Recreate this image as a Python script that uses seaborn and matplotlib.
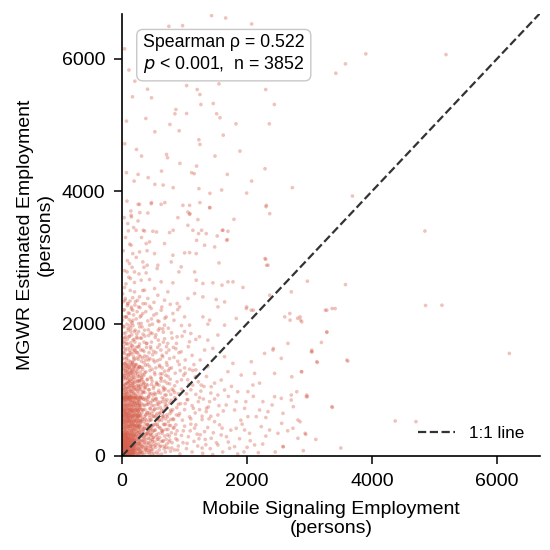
import numpy as np
import pandas as pd
import matplotlib
matplotlib.use("Agg")
import matplotlib.pyplot as plt
import seaborn as sns

# Points (mobile signaling employment, MGWR estimate), by region
upper_pts = [
    (1432, 6652), (1657, 6616), (748, 6490), (968, 6500), (2073, 6526), (40, 6150), (110, 5830),
    (204, 5661), (166, 5425), (407, 5540), (471, 5410), (1032, 5595), (1202, 5535), (1245, 5460),
    (1550, 5621), (2298, 5535), (2436, 5309), (1261, 5309), (1459, 5324), (861, 5234), (845, 5169),
    (1032, 5173), (1513, 5169), (70, 5058), (380, 5098), (765, 5008), (1566, 5109), (1822, 5017),
    (2356, 5017), (524, 4897), (913, 4912), (1619, 4846), (1229, 4777), (1245, 4706), (230, 4630),
    (711, 4555), (727, 4505), (1886, 4605), (1486, 4530), (311, 4530), (925, 4419), (1192, 4379),
    (2287, 4339), (70, 4279), (256, 4253), (417, 4204), (631, 4303), (1112, 4279), (1683, 4253),
    (2073, 4152), (192, 4152), (524, 4103), (657, 4092), (817, 4053), (1229, 4038), (1405, 3967),
    (1593, 4017), (2724, 4053), (256, 3801), (471, 3827), (684, 3827), (1245, 3827), (1405, 3751),
    (2303, 3766), (284, 3676), (1154, 4264), (1993, 3971), (43, 4716), (150, 3610), (551, 3383),
    (338, 3409), (817, 3409), (1085, 3661), (1272, 3409), (1603, 3409), (1673, 3258), (1192, 3258),
    (3900, 6074), (5183, 6063), (3574, 5923), (3420, 5781), (3686, 3926), (4846, 3398),
]

mid_pts = [
    (279, 3801), (465, 3811), (625, 3801), (973, 3786), (1080, 3786), (1400, 3751), (2308, 3786),
    (2362, 3660), (144, 3635), (412, 3670), (893, 3600), (1053, 3685), (1080, 3650), (1213, 3570),
    (1790, 3575), (91, 3510), (224, 3409), (359, 3398), (492, 3394), (760, 3374), (1053, 3484),
    (1133, 3409), (1224, 3359), (1346, 3359), (1522, 3323), (1614, 3409), (1683, 3268), (1694, 3394),
    (144, 3183), (171, 3057), (279, 3082), (385, 3208), (439, 3233), (519, 3057), (679, 3208),
    (813, 3032), (1000, 3067), (1080, 3072), (1186, 3057), (1320, 3183), (1481, 3157), (1550, 2916),
    (2298, 2971), (2335, 2881), (118, 2906), (332, 2931), (401, 2881), (572, 2881), (786, 2931),
    (946, 2856), (80, 2780), (198, 2780), (385, 2765), (561, 2831), (909, 2780), (1160, 2780),
    (134, 2680), (305, 2655), (439, 2665), (625, 2630), (813, 2615), (1186, 2655), (1293, 2605),
    (1453, 2615), (1598, 2580), (1694, 2630), (1774, 2630), (1934, 2545), (2708, 2479), (38, 2545),
    (198, 2479), (279, 2403), (359, 2504), (412, 2379), (519, 2529), (572, 2428), (679, 2353),
    (732, 2479), (881, 2303), (920, 2252), (1053, 2379), (1160, 2454), (1293, 2403), (1506, 2363),
    (1534, 2252), (1640, 2327), (1987, 2228), (2067, 2202), (2362, 2428), (2603, 2101), (2683, 2152),
    (91, 2303), (171, 2202), (263, 2252), (332, 2152), (465, 2228), (508, 2127), (625, 2202),
    (705, 2101), (813, 2152), (1000, 2101), (1293, 2101), (1400, 2051), (1640, 1976), (1827, 2077),
    (1373, 1991), (1080, 1976), (144, 2026), (305, 2001), (439, 1976), (572, 2041), (679, 1976),
    (38, 2101), (599, 1926),
    (10, 2450), (18, 3100), (25, 2200), (33, 3600), (40, 2800), (48, 2350), (55, 3300), (62, 2600),
    (70, 2100), (78, 3850), (85, 2950), (92, 2300), (100, 3400), (108, 2700), (115, 2150), (122, 3200),
    (130, 2500), (140, 3700), (150, 2250), (160, 2850), (172, 2050), (185, 3450), (198, 2620),
    (212, 2330), (226, 3000), (240, 2180), (255, 3550), (270, 2750), (290, 2100), (310, 3300),
    (330, 2500), (350, 2850), (375, 2300), (400, 3100),
    (5, 2050), (12, 1720), (18, 2330), (24, 1480), (30, 1950), (36, 2210), (43, 1620), (50, 2380),
    (57, 1800), (64, 2100), (71, 1530), (78, 1990), (85, 2270), (92, 1690), (99, 2160), (106, 1440),
    (113, 2060), (120, 1810), (127, 2340), (134, 1560), (141, 1930), (148, 2220), (155, 1670),
    (162, 2010), (169, 2390), (176, 1750), (183, 2130), (190, 1470), (197, 1880), (205, 2280),
    (215, 1590), (225, 2070), (235, 1840), (245, 2350), (255, 1650), (265, 2000), (275, 1520),
    (285, 2240), (295, 1780), (305, 2120), (320, 1950), (335, 2300), (350, 1580), (365, 1810),
    (380, 2180), (395, 1700), (410, 2040), (425, 1450), (440, 2260), (455, 1860), (470, 2070),
    (490, 1530), (510, 2320), (530, 1790), (550, 2150), (570, 1640), (590, 2030), (610, 1460),
    (635, 2250), (660, 1720), (685, 2080), (710, 1560), (740, 1930), (770, 2290), (800, 1780),
    (830, 2050), (860, 1620), (890, 2210), (760, 1470), (650, 1920),
]

band_hi_pts = [
    (25, 1850), (60, 1420), (85, 1760), (110, 1530), (140, 1880), (170, 1610), (195, 1450),
    (230, 1790), (250, 1560), (280, 1690), (310, 1430), (335, 1840), (360, 1510), (390, 1640),
    (420, 1905), (445, 1470), (470, 1720), (505, 1580), (540, 1830), (565, 1440), (600, 1680),
    (640, 1520), (680, 1770), (710, 1410), (750, 1600), (790, 1860), (830, 1490), (870, 1700),
    (910, 1560), (960, 1810), (1010, 1450), (1060, 1650), (1120, 1520), (1180, 1760), (15, 1560),
    (45, 1690), (75, 1480), (100, 1900), (130, 1640), (160, 1420), (205, 1720), (240, 1480),
    (265, 1880), (300, 1600), (350, 1720), (380, 1450), (430, 1560), (480, 1850), (520, 1420),
    (580, 1750), (620, 1600), (660, 1870), (730, 1700), (820, 1640), (1000, 1880), (890, 1430),
    (40, 1780), (190, 1560), (330, 1480), (460, 1620),
    (3, 1120), (6, 1460), (9, 1780), (12, 990), (15, 1320), (18, 1650), (22, 1960), (26, 1210),
    (30, 1550), (34, 920), (38, 1400), (42, 1730), (46, 1080), (50, 1590), (54, 1290), (58, 1860),
    (62, 1010), (66, 1470), (70, 1180), (74, 1700), (78, 960), (82, 1380), (86, 1620), (90, 1100),
    (94, 1930), (98, 1260), (102, 1520), (106, 1040), (110, 1800), (114, 1340), (118, 1590),
    (122, 1150), (126, 1970), (130, 1420), (134, 1060), (138, 1710), (142, 1250), (146, 1540),
    (150, 980), (154, 1830), (158, 1300), (162, 1090), (166, 1660), (170, 1410), (174, 1970),
    (178, 1190), (182, 1500), (186, 1020), (190, 1760), (194, 1330), (198, 1600), (204, 1110),
    (210, 1900), (216, 1380), (222, 1640), (228, 1000), (234, 1560), (240, 1270), (246, 1780),
    (252, 1130), (258, 1460), (264, 1050), (270, 1650), (276, 1350), (282, 1950), (288, 1220),
    (294, 1500), (300, 1080), (310, 1780), (320, 1340), (330, 1600), (340, 1120), (350, 1410),
    (360, 1900), (370, 1020), (380, 1270), (390, 1700), (400, 1500), (410, 1070), (425, 1820),
    (440, 1350), (455, 1650), (470, 1170), (485, 1990), (500, 1450), (520, 1260), (540, 1560),
    (560, 1090), (580, 1900), (600, 1370), (620, 1180), (650, 1500), (680, 1130), (710, 1650),
    (740, 1290),
]

band_mid_pts = [
    (10, 1390), (30, 1040), (50, 1250), (70, 930), (90, 1330), (115, 1120), (135, 980), (155, 1280),
    (180, 1060), (200, 1370), (220, 910), (245, 1200), (270, 1030), (290, 1340), (315, 1150),
    (340, 960), (365, 1260), (385, 1080), (410, 1380), (435, 940), (455, 1190), (480, 1310),
    (500, 1020), (525, 1230), (550, 1110), (575, 960), (600, 1350), (625, 1170), (655, 1040),
    (680, 1280), (705, 920), (735, 1200), (760, 1090), (790, 1330), (820, 990), (850, 1250),
    (880, 1120), (915, 1380), (950, 1010), (985, 1220), (1030, 940), (1080, 1310), (1130, 1070),
    (1190, 1200), (1260, 980), (20, 1180), (40, 960), (60, 1350), (80, 1100), (100, 1220),
    (125, 900), (145, 1380), (170, 1150), (190, 950), (210, 1240), (235, 1060), (255, 1320),
    (280, 1140), (305, 920), (330, 1230), (355, 1040), (375, 1370), (400, 1150), (425, 1000),
    (445, 1290), (470, 1080), (515, 950), (540, 1330), (590, 1070), (640, 1240), (690, 1010),
    (720, 1370), (770, 1160), (840, 1060), (900, 940), (1000, 1330), (1050, 1150), (1150, 1380),
    (1220, 1120),
    (2, 870), (5, 1010), (8, 1240), (11, 930), (14, 1150), (17, 1370), (20, 1060), (23, 880),
    (26, 1290), (29, 1000), (32, 1190), (35, 860), (38, 1330), (41, 1080), (44, 950), (47, 1220),
    (50, 1390), (53, 1030), (56, 910), (59, 1160), (62, 1280), (65, 980), (68, 1100), (71, 1360),
    (74, 900), (77, 1230), (80, 1040), (83, 1310), (86, 940), (89, 1170), (92, 1010), (95, 1270),
    (98, 880), (101, 1120), (104, 1380), (107, 970), (110, 1200), (113, 1060), (116, 1330),
    (119, 920), (122, 1140), (125, 1250), (128, 1000), (131, 880), (134, 1300), (137, 1090),
    (140, 940), (143, 1210), (146, 1360), (149, 1030), (152, 900), (155, 1170), (158, 1260),
    (161, 970), (164, 1120), (167, 1390), (170, 890), (173, 1050), (176, 1230), (179, 1330),
    (182, 940), (185, 1100), (188, 1280), (191, 1000), (194, 870), (197, 1190), (200, 1350),
    (205, 1040), (210, 930), (215, 1150), (220, 1290), (225, 1010), (230, 1380), (235, 890),
    (240, 1120), (245, 1240), (250, 980), (255, 1330), (260, 1070), (265, 900), (270, 1200),
    (275, 1350), (280, 1000), (285, 1130), (290, 880), (295, 1270), (300, 1050), (310, 1180),
    (320, 960), (330, 1310), (340, 1080), (350, 1220),
    (610, 1240), (640, 340), (665, 990), (695, 560), (720, 1100), (750, 210), (775, 690), (800, 1010),
    (830, 430), (860, 860), (890, 90), (920, 640), (950, 1150), (980, 380), (1010, 790), (1040, 190),
    (1070, 1080), (1100, 480), (1140, 720), (1170, 1190), (1200, 330), (1240, 880), (1280, 600),
    (1310, 1050), (1340, 170), (1380, 740), (640, 1330), (700, 1220), (760, 1320), (930, 1290),
    (1010, 1250), (1130, 1290),
]

band_lo_pts = [
    (8, 880), (18, 620), (28, 760), (38, 540), (48, 830), (58, 690), (68, 570), (78, 870), (88, 720),
    (98, 610), (108, 790), (118, 530), (128, 850), (138, 660), (148, 740), (158, 580), (168, 890),
    (178, 700), (188, 520), (198, 810), (210, 640), (222, 760), (234, 560), (246, 870), (258, 680),
    (270, 600), (282, 820), (294, 730), (306, 510), (318, 650), (330, 880), (342, 770), (354, 590),
    (366, 700), (378, 840), (390, 540), (402, 660), (414, 780), (426, 890), (438, 620), (450, 710),
    (465, 550), (480, 830), (495, 680), (510, 760), (525, 590), (540, 870), (555, 640), (570, 720),
    (590, 530), (610, 810), (630, 690), (650, 580), (670, 860), (690, 740), (715, 620), (740, 520),
    (765, 800), (790, 670), (815, 560), (845, 880), (875, 730), (905, 610), (935, 790), (965, 540),
    (1000, 700), (1040, 850), (1080, 590), (1120, 760), (1170, 650), (1220, 820), (1280, 550),
    (1350, 720), (1420, 600), (1480, 860), (12, 720), (22, 510), (32, 660), (42, 890), (52, 600),
    (62, 780), (72, 520), (82, 640), (92, 850), (102, 560), (112, 700), (122, 880), (132, 590),
    (142, 810), (152, 520), (162, 670), (172, 780), (182, 610), (192, 720), (204, 550), (216, 860),
    (228, 690), (240, 610), (252, 790), (264, 530), (276, 720), (288, 880), (300, 610), (312, 790),
    (324, 550), (336, 700), (348, 860), (360, 520), (384, 620), (408, 850), (432, 530), (456, 800),
    (490, 600), (520, 840), (560, 780), (600, 650), (660, 600), (720, 850), (780, 550),
    (4, 610), (7, 740), (9, 830), (13, 560), (16, 690), (19, 470), (21, 880), (24, 620), (27, 530),
    (29, 780), (33, 660), (36, 430), (38, 710), (41, 590), (44, 860), (46, 500), (49, 640), (52, 770),
    (55, 450), (57, 690), (60, 560), (63, 820), (66, 610), (68, 490), (71, 750), (74, 640), (77, 880),
    (79, 530), (82, 700), (85, 460), (88, 600), (90, 790), (93, 520), (96, 680), (99, 850), (101, 570),
    (104, 440), (107, 730), (110, 610), (113, 890), (116, 500), (119, 660), (122, 770), (125, 540),
    (128, 710), (131, 460), (134, 620), (137, 840), (140, 560), (143, 700), (146, 480), (149, 780),
    (152, 610), (155, 870), (158, 520), (161, 680), (164, 440), (167, 750), (170, 590), (173, 830),
    (176, 500), (179, 650), (182, 760), (185, 470), (188, 610), (191, 880), (194, 540), (197, 700),
    (200, 820), (203, 460), (206, 630), (209, 770), (212, 520), (215, 690), (218, 880), (221, 450),
    (224, 600), (227, 740), (230, 510), (233, 660), (236, 800), (239, 570), (242, 460), (245, 720),
    (248, 610), (251, 850), (254, 500), (257, 680), (260, 770), (263, 440), (266, 600), (269, 830),
    (272, 540), (275, 700), (278, 460), (281, 640), (284, 760), (287, 520), (290, 880), (293, 600),
    (3, 700), (6, 570), (10, 790), (14, 520), (18, 850), (23, 680), (27, 600), (31, 820), (35, 550),
    (40, 740), (45, 660), (50, 880), (55, 510), (60, 720), (65, 840), (70, 630), (75, 760), (80, 580),
    (85, 890), (90, 650), (95, 530), (100, 760), (105, 870), (110, 640), (115, 580), (120, 820),
    (125, 690), (130, 760), (135, 520), (140, 880), (145, 620), (150, 700), (160, 830), (170, 560),
    (180, 670), (190, 800), (200, 600), (210, 880), (220, 530), (230, 800), (240, 700), (250, 580),
    (260, 840), (270, 650), (280, 760), (290, 540),
    (252, 620), (258, 950), (263, 180), (268, 1140), (274, 420), (281, 780), (287, 60), (293, 1010),
    (299, 330), (304, 870), (311, 520), (317, 1180), (323, 140), (329, 690), (336, 980), (342, 400),
    (349, 1100), (355, 250), (361, 760), (368, 560), (374, 1040), (381, 90), (387, 880), (394, 340),
    (400, 650), (407, 1160), (413, 470), (420, 810), (427, 200), (433, 1000), (440, 580), (447, 720),
    (453, 330), (460, 940), (467, 110), (474, 640), (480, 1130), (487, 460), (494, 860), (501, 280),
    (508, 1050), (515, 700), (523, 390), (531, 930), (539, 170), (547, 610), (555, 1080), (563, 480),
    (571, 820), (579, 250), (588, 990), (597, 550), (606, 140), (615, 730), (624, 1130), (633, 380),
    (642, 880), (651, 610), (660, 230), (670, 1020), (680, 470), (690, 780), (700, 130),
]

core_pts = [
    (3, 480), (6, 20), (9, 260), (12, 140), (15, 390), (18, 60), (21, 310), (24, 190), (27, 440),
    (30, 90), (33, 350), (36, 230), (39, 30), (42, 470), (45, 160), (48, 280), (51, 110), (54, 410),
    (57, 210), (60, 50), (63, 370), (66, 130), (69, 300), (72, 460), (75, 80), (78, 240), (81, 340),
    (84, 10), (87, 180), (90, 420), (93, 120), (96, 270), (99, 490), (102, 40), (105, 330), (108, 200),
    (111, 380), (114, 70), (117, 250), (120, 150), (123, 440), (126, 100), (129, 320), (132, 220),
    (135, 470), (138, 30), (141, 290), (144, 170), (147, 400), (150, 60), (153, 360), (156, 130),
    (159, 240), (162, 480), (165, 90), (168, 310), (171, 200), (174, 420), (177, 20), (180, 270),
    (183, 150), (186, 380), (189, 80), (192, 340), (195, 230), (198, 450), (201, 120), (204, 290),
    (207, 50), (210, 400), (213, 180), (216, 330), (219, 100), (222, 460), (225, 250), (228, 140),
    (231, 370), (234, 40), (237, 300), (240, 210), (243, 430), (246, 70), (249, 350), (252, 160),
    (255, 490), (258, 260), (261, 110), (264, 390), (267, 30), (270, 320), (273, 190), (276, 450),
    (279, 90), (282, 280), (285, 360), (288, 140), (291, 470), (294, 220), (297, 60), (300, 410),
    (306, 170), (312, 300), (318, 80), (324, 440), (330, 240), (336, 130), (342, 370), (348, 20),
    (354, 290), (360, 200), (366, 480), (372, 110), (378, 330), (384, 250), (390, 50), (396, 420),
    (402, 160), (408, 350), (414, 90), (420, 270), (426, 460), (432, 190), (438, 30), (444, 380),
    (450, 140), (456, 310), (462, 230), (468, 70), (474, 440), (480, 170), (486, 360), (492, 100),
    (498, 280), (506, 470), (514, 40), (522, 210), (530, 390), (538, 130), (546, 320), (554, 60),
    (562, 250), (570, 450), (578, 180), (586, 340), (594, 90), (602, 280), (612, 420), (622, 150),
    (632, 30), (642, 370), (652, 220), (662, 480), (672, 110), (682, 300), (692, 60), (704, 400),
    (716, 180), (728, 320), (740, 120), (752, 460), (764, 240), (776, 70), (788, 350), (800, 200),
    (2, 100), (4, 200), (5, 330), (7, 50), (8, 160), (10, 280), (11, 15), (13, 90), (14, 210),
    (16, 350), (17, 130), (19, 240), (20, 40), (22, 170), (23, 300), (25, 70), (26, 220), (28, 140),
    (29, 330), (31, 10), (32, 190), (34, 80), (35, 260), (37, 120), (38, 360), (40, 50), (41, 200),
    (43, 290), (44, 150), (46, 20), (47, 230), (49, 100), (50, 320), (52, 60), (53, 180), (55, 270),
    (56, 30), (58, 140), (59, 340), (61, 90), (62, 210), (64, 290), (65, 40), (67, 170), (68, 250),
    (70, 110), (71, 320), (73, 60), (74, 200), (76, 150), (77, 30), (79, 280), (80, 120), (82, 220),
    (83, 350), (85, 70), (86, 170), (88, 260), (89, 20), (91, 140), (92, 310), (94, 90), (95, 210),
    (97, 50), (98, 180), (100, 280), (103, 130), (106, 20), (109, 240), (112, 160), (115, 330),
    (118, 60), (121, 200), (124, 120), (127, 270), (130, 40), (133, 180), (136, 90), (139, 330),
    (142, 230), (145, 20), (148, 150), (151, 260), (154, 80), (157, 190), (160, 350), (163, 40),
    (166, 140), (169, 230), (172, 100), (175, 300), (178, 60), (181, 200), (184, 130), (187, 40),
    (190, 250), (193, 170), (196, 90), (199, 330),
    (5, 15), (8, 120), (11, 230), (14, 50), (17, 170), (20, 300), (23, 80), (26, 400), (28, 250),
    (31, 130), (34, 30), (37, 190), (39, 420), (42, 100), (45, 320), (47, 60), (50, 220), (53, 380),
    (56, 140), (58, 260), (61, 20), (64, 170), (67, 330), (69, 80), (72, 230), (75, 390), (78, 120),
    (80, 50), (83, 280), (86, 440), (89, 160), (91, 90), (94, 350), (97, 230), (100, 30), (104, 180),
    (107, 420), (110, 110), (113, 270), (116, 40), (119, 380), (122, 210), (125, 70), (128, 450),
    (131, 160), (134, 300), (137, 10), (140, 240), (143, 380), (146, 100), (149, 200), (152, 30),
    (155, 330), (158, 150), (161, 420), (164, 80), (167, 280), (170, 180), (173, 30), (176, 380),
    (179, 240), (182, 110), (185, 470), (188, 200), (191, 60), (194, 310), (197, 150), (200, 400),
    (205, 240), (210, 20), (215, 300), (220, 170), (225, 420), (230, 90), (235, 250), (240, 360),
    (245, 120), (250, 30), (255, 300), (260, 200), (265, 450), (270, 100), (275, 240), (280, 360),
    (285, 40), (290, 170), (295, 320), (300, 120), (310, 230), (320, 380), (330, 50), (340, 290),
    (350, 160), (360, 420), (370, 90), (380, 310), (390, 200), (400, 470), (410, 120), (420, 380),
    (430, 60), (440, 260), (450, 410), (460, 150), (470, 320), (480, 30), (490, 220), (500, 380),
]

right_pts = [
    (820, 420), (840, 90), (860, 260), (880, 380), (900, 150), (925, 30), (950, 310), (975, 200),
    (1000, 450), (1030, 110), (1060, 290), (1090, 380), (1120, 60), (1150, 220), (1180, 470),
    (1210, 150), (1250, 320), (1290, 40), (1330, 250), (1370, 430), (1410, 110), (1460, 350),
    (1510, 200), (1560, 470), (1610, 60), (1670, 290), (1740, 390), (1800, 140), (1880, 260),
    (1950, 60), (2050, 230), (2180, 50), (2300, 300),
    (2280, 1549), (2414, 1600), (2547, 1474), (2654, 1700), (2857, 2052), (3028, 1574), (2868, 1273),
    (2067, 1423), (1773, 1398), (1639, 1499), (1693, 1273), (1906, 1222), (2120, 1247), (2440, 1247),
    (2093, 1071), (2013, 971), (2253, 820), (2440, 895), (2707, 920), (2707, 845), (2547, 870),
    (2948, 895), (2814, 543), (2734, 418), (2574, 644), (2334, 669), (1826, 820), (1666, 770),
    (1800, 694), (1960, 719), (2013, 594), (2147, 594), (2200, 694), (1826, 418), (1960, 392),
    (2040, 342), (2227, 443), (2360, 392), (2494, 342), (2120, 166), (2574, 141), (2814, 267),
    (1586, 317), (1533, 166), (1720, 116), (1426, 267), (1319, 367), (1479, 518), (1533, 619),
    (1346, 669), (1400, 820), (1533, 920), (1639, 996), (1426, 1046), (1266, 1071), (1586, 1147),
    (1372, 1348), (1452, 1625), (1239, 1801), (1079, 1725), (1372, 1750), (1533, 1826), (945, 1574),
    (1994, 2252), (2100, 2202), (2287, 2982), (2313, 2880), (2420, 1624), (2688, 2051), (2848, 2101),
    (2875, 2026), (3035, 1599), (3115, 1423), (3276, 2202), (3360, 2227), (3276, 1875), (3596, 1448),
    (3356, 744), (2795, 970), (2955, 920), (2848, 517), (2928, 342), (2580, 140), (2740, 744),
    (2554, 493), (2715, 1196),
    (2965, 2640), (3574, 2589), (4856, 2273), (5118, 2277), (3253, 2202), (3409, 2227), (3276, 1866),
    (3189, 1715), (3040, 1573), (3125, 1413), (3612, 1433), (6197, 1549), (2875, 1272), (2965, 895),
    (3365, 734), (4370, 528), (4702, 518), (2939, 327), (2810, 2080),
    (1050, 850), (1100, 1000), (1180, 930), (1240, 700), (1300, 860), (1350, 1200), (1420, 950),
    (1480, 1100), (1550, 760), (1620, 680), (1700, 900), (1750, 1050), (1850, 970), (1900, 540),
    (1980, 820), (2100, 900), (2200, 1100), (2300, 580), (2400, 770), (1100, 560), (1160, 420),
    (1230, 260), (1280, 120), (1390, 560), (1450, 20), (1600, 420), (1700, 210), (1850, 30),
    (1920, 480), (2000, 130), (2250, 180), (2450, 60), (2650, 380), (2900, 80), (3100, 250),
    (3500, 120), (1250, 1450), (1320, 1600), (1180, 1300), (1100, 1850), (950, 1970), (880, 1800),
    (305, 700), (315, 40), (325, 560), (335, 860), (345, 210), (355, 420), (365, 960), (375, 620),
    (385, 130), (395, 780), (405, 480), (415, 330), (425, 900), (435, 650), (445, 80), (455, 540),
    (465, 410), (475, 760), (485, 250), (495, 920), (505, 600), (515, 150), (525, 710), (535, 480),
    (545, 860), (555, 290), (565, 560), (575, 30), (585, 780), (595, 430), (605, 640), (615, 950),
    (625, 220), (635, 540), (645, 820), (655, 390), (665, 690), (675, 150), (685, 920), (695, 480),
    (705, 250), (715, 760), (725, 590), (735, 400), (745, 980), (755, 300), (765, 640), (775, 460),
    (785, 840), (795, 120), (810, 700), (825, 550), (840, 960), (855, 330), (870, 620), (885, 240),
    (900, 780), (860, 470), (780, 930), (700, 820),
]

rho = 0.522
n_obs = 3852
axis_max = 6680

regions = [upper_pts, mid_pts, band_hi_pts, band_mid_pts, band_lo_pts, core_pts, right_pts]
pts = np.array([p for r in regions for p in r], dtype=float)
df = pd.DataFrame({"mobile": pts[:, 0], "mgwr": pts[:, 1]})

sns.set_theme(style="ticks")
plt.rcParams["font.family"] = ["Liberation Sans", "DejaVu Sans"]
plt.rcParams["text.color"] = "black"
plt.rcParams["axes.labelcolor"] = "black"

fig = plt.figure(figsize=(5.5, 5.5), dpi=100)
ax = fig.add_axes([0.222, 0.171, 0.759, 0.804])

sns.scatterplot(
    data=df, x="mobile", y="mgwr", ax=ax,
    color="#d6604d", s=7, alpha=0.38, edgecolor="none", linewidth=0,
)
ax.plot([0, axis_max], [0, axis_max], ls="--", color="#333333", lw=1.6, label="1:1 line")

ax.set_xlim(0, axis_max)
ax.set_ylim(0, axis_max)
ax.set_xticks([0, 2000, 4000, 6000])
ax.set_yticks([0, 2000, 4000, 6000])
ax.tick_params(labelsize=14, length=6, width=1.1, colors="black", pad=6)
ax.set_xlabel("Mobile Signaling Employment\n(persons)", fontsize=14, labelpad=8)
ax.set_ylabel("MGWR Estimated Employment\n(persons)", fontsize=14, labelpad=6)
for side in ["left", "bottom"]:
    ax.spines[side].set_linewidth(1.2)
    ax.spines[side].set_color("black")
sns.despine(ax=ax)

ax.text(
    0.05, 0.955,
    "Spearman \u03c1 = {:.3f}\n$p$ < 0.001,  n = {}".format(rho, n_obs),
    transform=ax.transAxes, fontsize=12.8, va="top", ha="left",
    bbox=dict(boxstyle="round,pad=0.35", fc="white", ec="#c8c8c8", lw=1),
)
ax.legend(loc="lower right", frameon=False, fontsize=12.3, handlelength=2.2)

fig.savefig("out.png", dpi=100)
